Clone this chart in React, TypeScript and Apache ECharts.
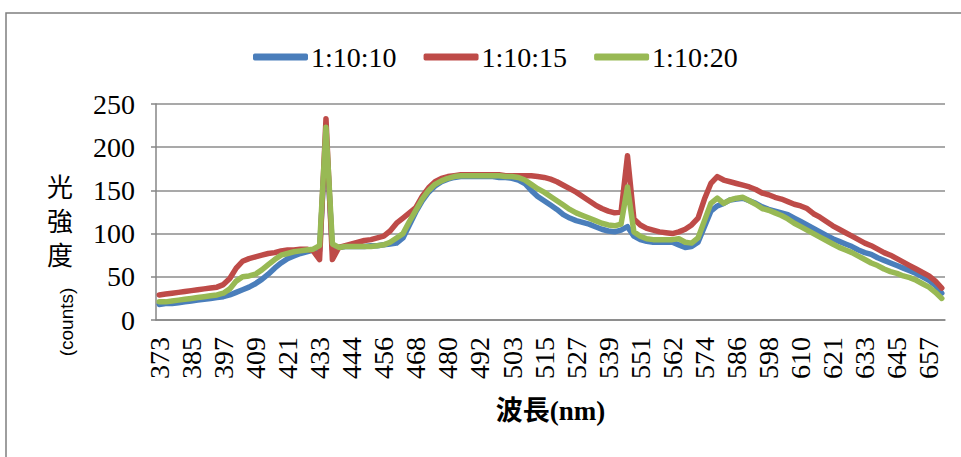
import React, { useEffect, useRef } from "react";
import * as echarts from "echarts";

const categories: string[] = [
  "373", "375", "378", "380", "383", "385", "387", "390", "392", "395",
  "397", "399", "402", "404", "407", "409", "411", "414", "416", "419",
  "421", "423", "426", "428", "431", "433", "435", "437", "440", "442",
  "444", "446", "449", "451", "454", "456", "458", "461", "463", "466",
  "468", "470", "473", "475", "478", "480", "482", "485", "487", "490",
  "492", "494", "496", "499", "501", "503", "505", "508", "510", "513",
  "515", "517", "520", "522", "525", "527", "529", "532", "534", "537",
  "539", "541", "544", "546", "549", "551", "553", "555", "558", "560",
  "562", "564", "567", "569", "572", "574", "576", "579", "581", "584",
  "586", "588", "591", "593", "596", "598", "600", "603", "605", "608",
  "610", "612", "614", "617", "619", "621", "623", "626", "628", "631",
  "633", "635", "638", "640", "643", "645", "647", "650", "652", "655",
  "657", "659", "662",
];

const series10: number[] = [
  18, 19, 19, 20, 21, 22, 23, 24, 25, 26,
  27, 29, 32, 35, 38, 42, 47, 53, 60, 66,
  71, 74, 77, 79, 81, 80, 215, 82, 84, 85,
  85, 85, 85, 86, 86, 87, 88, 89, 95, 110,
  125, 138, 148, 155, 160, 163, 165, 166, 166, 166,
  166, 166, 166, 165, 165, 164, 162, 158, 150, 143,
  138, 133, 128, 122, 118, 115, 113, 111, 108, 105,
  103, 102, 104, 108, 97, 93, 91, 90, 90, 90,
  90, 87, 84, 85, 90, 108, 126, 132, 135, 139,
  140, 141, 138, 135, 131, 128, 126, 124, 122, 118,
  114, 110, 106, 102, 98, 94, 91, 88, 85, 81,
  78, 76, 72, 69, 66, 63, 60, 57, 54, 50,
  46, 40, 31,
];

const series15: number[] = [
  29, 30, 31, 32, 33, 34, 35, 36, 37, 38,
  41, 48, 60, 68, 71, 73, 75, 77, 78, 80,
  81, 81, 82, 82, 80, 70, 233, 70, 84, 86,
  88, 90, 92, 93, 95, 97, 103, 112, 118, 124,
  130, 143, 153, 160, 164, 166, 167, 168, 168, 168,
  168, 168, 168, 168, 167, 167, 167, 167, 167, 166,
  165, 163, 160, 156, 152, 148, 143, 138, 133, 129,
  126, 124, 125, 190, 117, 110, 106, 104, 102, 101,
  100, 102, 105, 110, 118, 140, 158, 166, 162, 160,
  158, 156, 154, 151, 147, 145, 142, 140, 137, 134,
  132, 129, 123, 119, 114, 109, 105, 101, 97, 93,
  89, 86, 82, 78, 75, 71, 67, 63, 59, 55,
  51, 45, 37,
];

const series20: number[] = [
  21, 21, 22, 23, 24, 25, 26, 27, 28, 29,
  31, 36, 45, 50, 51, 53, 58, 64, 70, 75,
  77, 79, 80, 81, 82, 86, 223, 88, 84, 85,
  85, 85, 85, 85, 86, 87, 90, 95, 100, 114,
  127, 140, 150, 157, 161, 164, 166, 167, 167, 167,
  167, 167, 167, 167, 166, 166, 165, 162, 157, 152,
  148, 143, 138, 133, 128, 124, 121, 118, 115, 112,
  110, 109, 111, 154, 102, 97, 94, 93, 93, 93,
  93, 94, 90, 89, 95, 115, 135, 141, 135, 139,
  141, 142, 138, 134, 129, 127, 124, 121, 117, 112,
  108, 104, 100, 96, 92, 88, 84, 81, 78, 74,
  70, 66, 63, 59, 56, 54, 51, 49, 46, 42,
  38, 32, 25,
];

const seriesNames: string[] = ["1:10:10", "1:10:15", "1:10:20"];
const seriesColors: string[] = ["#4A7EBB", "#BE4B48", "#98B954"];
const yTicks = { min: 0, max: 250, interval: 50 };

const SERIF = '"Liberation Serif", "Times New Roman", serif';
const CJK = '"Noto Sans CJK TC", "Noto Sans CJK JP", sans-serif';

export default function App() {
  const ref = useRef<HTMLDivElement>(null);

  useEffect(() => {
    if (!ref.current) return;
    const chart = echarts.init(ref.current, undefined, { renderer: "svg" });
    const datas = [series10, series15, series20];
    const option: any = {
      animation: false,
      backgroundColor: "#ffffff",
      graphic: [
        {
          type: "rect",
          silent: true,
          z: -10,
          shape: { x: 6, y: 13, width: 1000, height: 500 },
          style: { fill: "none", stroke: "#7f7f7f", lineWidth: 1.5 },
        },
        ...["光", "強", "度"].map((ch, i) => ({
          type: "text",
          x: 60,
          y: 185 + i * 34,
          style: {
            text: ch,
            font: `26px ${CJK}`,
            fill: "#000",
            align: "center",
            verticalAlign: "middle",
            textAlign: "center",
            textVerticalAlign: "middle",
          },
        })),
        {
          type: "text",
          x: 66,
          y: 322,
          rotation: Math.PI / 2,
          style: {
            text: "(counts)",
            font: '19px "Liberation Sans", Arial, sans-serif',
            fill: "#000",
            align: "center",
            verticalAlign: "middle",
            textAlign: "center",
            textVerticalAlign: "middle",
          },
        },
      ],
      legend: {
        data: seriesNames,
        left: 248,
        top: 38,
        icon: "roundRect",
        itemWidth: 55,
        itemHeight: 7,
        itemGap: 27,
        textStyle: { fontFamily: SERIF, fontSize: 28, color: "#000", padding: [0, 0, 0, -2] },
      },
      grid: { left: 156, right: 16, top: 104, bottom: 137, containLabel: false },
      xAxis: {
        type: "category",
        data: categories,
        boundaryGap: true,
        axisLine: { show: true, lineStyle: { color: "#868686", width: 1.5 } },
        axisTick: { show: false },
        axisLabel: {
          interval: 4,
          rotate: 90,
          margin: 17,
          fontFamily: SERIF,
          fontSize: 28,
          color: "#000",
        },
        name: "波長(nm)",
        nameLocation: "middle",
        nameGap: 77,
        nameTextStyle: {
          fontFamily: `${SERIF}, ${CJK}`,
          fontWeight: "bold",
          fontSize: 27,
          color: "#000",
        },
      },
      yAxis: {
        type: "value",
        min: yTicks.min,
        max: yTicks.max,
        interval: yTicks.interval,
        axisLine: { show: true, lineStyle: { color: "#868686", width: 1.5 } },
        axisTick: { show: true, length: 5, lineStyle: { color: "#868686", width: 1.5 } },
        splitLine: { show: true, lineStyle: { color: "#8c8c8c", width: 1.5 } },
        axisLabel: {
          margin: 21,
          fontFamily: SERIF,
          fontSize: 28,
          color: "#000",
        },
      },
      series: seriesNames.map((name, i) => ({
        name,
        type: "line",
        data: datas[i],
        showSymbol: false,
        symbol: "none",
        smooth: false,
        color: seriesColors[i],
        lineStyle: { width: 5.5, color: seriesColors[i], cap: "round", join: "round" },
        itemStyle: { color: seriesColors[i] },
        z: 2 + i,
      })),
    };
    chart.setOption(option);
    return () => chart.dispose();
  }, []);

  return (
    <div
      ref={ref}
      style={{ position: "fixed", left: 0, top: 0, width: 961, height: 457, background: "#fff" }}
    />
  );
}
